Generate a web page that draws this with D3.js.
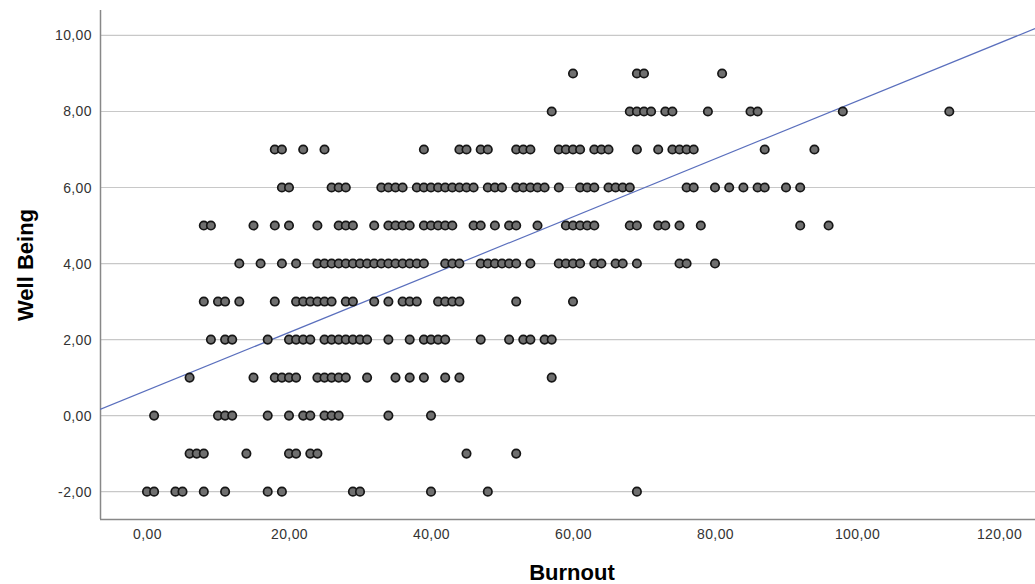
<!DOCTYPE html>
<html>
<head>
<meta charset="utf-8">
<script src="https://cdn.jsdelivr.net/npm/d3@7"></script>
<style>
  html, body { margin: 0; padding: 0; background: #ffffff; }
  svg { display: block; }
</style>
</head>
<body>
<svg id="chart" width="1035" height="584"></svg>
<script>
// ---- Data (burnout values observed at each well-being level) ----
const burnoutAtWB9  = [60, 69, 70, 81];
const burnoutAtWB8  = [57, 68, 69, 70, 71, 73, 74, 79, 85, 86, 98, 113];
const burnoutAtWB7  = [18, 19, 22, 25, 39, 44, 45, 47, 48, 52, 53, 54, 58, 59, 60, 61, 63, 64, 65, 69, 72, 74, 75, 76, 77, 87, 94];
const burnoutAtWB6  = [19, 20, 26, 27, 28, 33, 34, 35, 36, 38, 39, 40, 41, 42, 43, 44, 45, 46, 48, 49, 50, 52, 53, 54, 55, 56, 58, 61, 62, 63, 65, 66, 67, 68, 76, 77, 80, 82, 84, 86, 87, 90, 92];
const burnoutAtWB5  = [8, 9, 15, 18, 20, 24, 27, 28, 29, 32, 34, 35, 36, 37, 39, 40, 41, 42, 43, 46, 47, 49, 51, 52, 55, 59, 60, 61, 62, 63, 68, 69, 72, 73, 75, 78, 92, 96];
const burnoutAtWB4  = [13, 16, 19, 21, 24, 25, 26, 27, 28, 29, 30, 31, 32, 33, 34, 35, 36, 37, 38, 39, 42, 43, 44, 47, 48, 49, 50, 51, 52, 54, 58, 59, 60, 61, 63, 64, 66, 67, 69, 75, 76, 80];
const burnoutAtWB3  = [8, 10, 11, 13, 18, 21, 22, 23, 24, 25, 26, 28, 29, 32, 34, 36, 37, 38, 41, 42, 43, 44, 52, 60];
const burnoutAtWB2  = [9, 11, 12, 17, 20, 21, 22, 23, 25, 26, 27, 28, 29, 30, 31, 34, 37, 39, 40, 41, 42, 47, 51, 53, 54, 56, 57];
const burnoutAtWB1  = [6, 15, 18, 19, 20, 21, 24, 25, 26, 27, 28, 31, 35, 37, 39, 42, 44, 57];
const burnoutAtWB0  = [1, 10, 11, 12, 17, 20, 22, 23, 25, 26, 27, 34, 40];
const burnoutAtWBm1 = [6, 7, 8, 14, 20, 21, 23, 24, 45, 52];
const burnoutAtWBm2 = [0, 1, 4, 5, 8, 11, 17, 19, 29, 30, 40, 48, 69];

const wellBeingLevels = [9, 8, 7, 6, 5, 4, 3, 2, 1, 0, -1, -2];
const burnoutByLevel = [burnoutAtWB9, burnoutAtWB8, burnoutAtWB7, burnoutAtWB6, burnoutAtWB5, burnoutAtWB4,
                        burnoutAtWB3, burnoutAtWB2, burnoutAtWB1, burnoutAtWB0, burnoutAtWBm1, burnoutAtWBm2];

const xTicks = [0, 20, 40, 60, 80, 100, 120];
const yTicks = [-2, 0, 2, 4, 6, 8, 10];

// fit line
const fitIntercept = 0.664;
const fitSlope = 0.0761;

const xTitle = "Burnout";
const yTitle = "Well Being";

// ---- Build point table ----
const points = [];
wellBeingLevels.forEach((wb, i) => {
  burnoutByLevel[i].forEach(b => points.push({ burnout: b, wellBeing: wb }));
});

// ---- Layout ----
const svg = d3.select("#chart");
const plotLeft = 100, plotRight = 1035, plotTop = 10, plotBottom = 519;

const x = d3.scaleLinear().domain([-6.62, 125.07]).range([plotLeft, plotRight]);
const y = d3.scaleLinear().domain([-2.72, 10.67]).range([plotBottom, plotTop]);

const loc = d3.formatLocale({ decimal: ",", thousands: ".", grouping: [3], currency: ["", ""], minus: "-" });
const fmt = loc.format(".2f");

// gridlines
svg.append("g")
  .selectAll("line")
  .data(yTicks)
  .join("line")
  .attr("x1", plotLeft).attr("x2", plotRight)
  .attr("y1", d => y(d)).attr("y2", d => y(d))
  .attr("stroke", "#c8c8c8")
  .attr("stroke-width", 1.2);

// axes
const xAxis = d3.axisBottom(x).tickValues(xTicks).tickFormat(fmt).tickSize(0).tickPadding(10);
const yAxis = d3.axisLeft(y).tickValues(yTicks).tickFormat(fmt).tickSize(0).tickPadding(8);

const gx = svg.append("g").attr("transform", `translate(0,${plotBottom})`).call(xAxis);
const gy = svg.append("g").attr("transform", `translate(${plotLeft},0)`).call(yAxis);

[gx, gy].forEach(g => {
  g.select(".domain").attr("stroke", "#888888").attr("stroke-width", 1.5);
  g.selectAll("text")
    .attr("font-family", "Liberation Sans, Arial, sans-serif")
    .attr("font-size", 14)
    .attr("letter-spacing", "0.4px")
    .attr("fill", "#333333");
});
gx.select(".domain").attr("d", `M${plotLeft},0.5H${plotRight}`);
gy.select(".domain").attr("d", `M0.5,${plotTop}V${plotBottom}`);

// fit line, clipped to plot area
svg.append("clipPath").attr("id", "plotclip")
  .append("rect").attr("x", plotLeft).attr("y", plotTop)
  .attr("width", plotRight - plotLeft).attr("height", plotBottom - plotTop);

const xd0 = x.domain()[0], xd1 = x.domain()[1];
svg.append("line")
  .attr("clip-path", "url(#plotclip)")
  .attr("x1", x(xd0)).attr("y1", y(fitIntercept + fitSlope * xd0))
  .attr("x2", x(xd1)).attr("y2", y(fitIntercept + fitSlope * xd1))
  .attr("stroke", "#5a6fbd")
  .attr("stroke-width", 1.2);

// points
svg.append("g")
  .selectAll("circle")
  .data(points)
  .join("circle")
  .attr("cx", d => x(d.burnout))
  .attr("cy", d => y(d.wellBeing))
  .attr("r", 4.2)
  .attr("fill", "#6f6f6f")
  .attr("stroke", "#161616")
  .attr("stroke-width", 1.7);

// axis titles
svg.append("text")
  .attr("x", 572)
  .attr("y", 580)
  .attr("text-anchor", "middle")
  .attr("font-family", "Liberation Sans, Arial, sans-serif")
  .attr("font-weight", "bold")
  .attr("font-size", 22)
  .attr("fill", "#000")
  .text(xTitle);

svg.append("text")
  .attr("transform", `translate(33,265) rotate(-90)`)
  .attr("text-anchor", "middle")
  .attr("font-family", "Liberation Sans, Arial, sans-serif")
  .attr("font-weight", "bold")
  .attr("font-size", 22)
  .attr("fill", "#000")
  .text(yTitle);
</script>
</body>
</html>
